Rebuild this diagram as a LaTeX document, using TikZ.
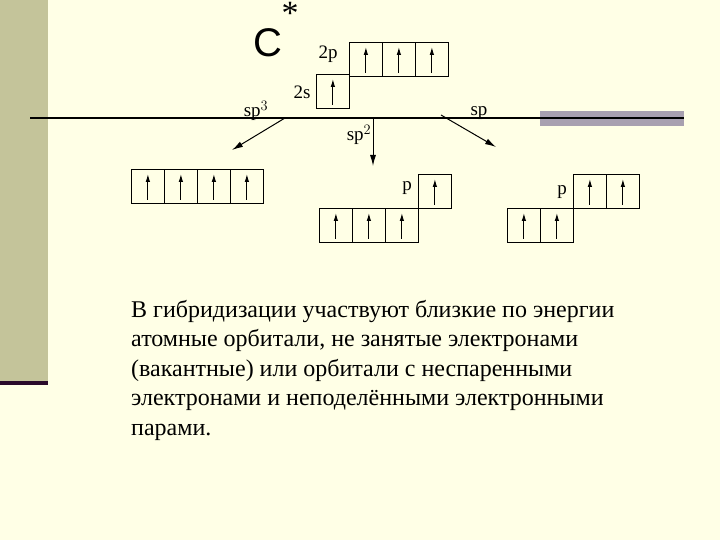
\documentclass[tikz,border=0pt]{standalone}
\usepackage{fontspec}
\setmainfont{Liberation Serif}
\newfontfamily\sansC{Liberation Sans}
\usetikzlibrary{arrows.meta}
\definecolor{bg}{HTML}{FFFFE6}
\definecolor{bar}{HTML}{C4C49A}
\definecolor{dark}{HTML}{2A0A2A}
\definecolor{greybar}{HTML}{A8A0B0}
\tikzset{
  cell/.style={draw, line width=0.8pt, minimum width=33pt, minimum height=34pt, inner sep=0pt, anchor=north west},
  spin/.style={-{Latex[length=8pt,width=4.5pt]}, line width=1pt},
  hyb/.style={-{Latex[length=11pt,width=6pt]}, line width=1pt},
  lbl/.style={font=\fontsize{19}{19}\selectfont, inner sep=0pt},
}
\newcommand{\cellup}[2]{\node[cell] (#1) at #2 {};
  \draw[spin] ([yshift=4pt]#1.south) -- ([yshift=-5pt]#1.north);}
\begin{document}
\begin{tikzpicture}[x=1pt,y=-1pt]
\path[fill=bg] (0,0) rectangle (720,540);
\useasboundingbox (0,0) rectangle (720,540);
\fill[bar] (0,0) rectangle (48,381);
\fill[dark] (0,381) rectangle (48,385);
\fill[greybar] (540,111) rectangle (684,126);
\coordinate (l0) at (30,118);
\coordinate (l1) at (684,118);
\draw[line width=1.3pt] (l0) -- (l1);
\node[font=\sansC\fontsize{40}{40}\selectfont, inner sep=0pt] (C) at (268,43) {C};
\node[font=\fontsize{34}{34}\selectfont, inner sep=0pt, anchor=north] (star) at (290,2) {*};
% 2p / 2s
\cellup{p1}{(349,42)}\cellup{p2}{(382,42)}\cellup{p3}{(415,42)}
\cellup{s1}{(316,74)}
\node[lbl] (l2p) at (328,54) {2p};
\node[lbl] (l2s) at (302,92) {2s};
% hybrid arrows
\coordinate (a3) at (285,118); \coordinate (b3) at (232,150);
\coordinate (a2) at (373,118); \coordinate (b2) at (373,166);
\coordinate (a1) at (441,115); \coordinate (b1) at (496,147);
\draw[hyb] (a3) -- (b3);
\draw[hyb] (a2) -- (b2);
\draw[hyb] (a1) -- (b1);
\node[lbl] (lsp3) at (256,111) {sp$^{3}$};
\node[lbl] (lsp2) at (359,135) {sp$^{2}$};
\node[lbl] (lsp) at (479,113) {sp};
% sp3
\cellup{q1}{(131,169)}\cellup{q2}{(164,169)}\cellup{q3}{(197,169)}\cellup{q4}{(230,169)}
% sp2
\cellup{r1}{(319,208)}\cellup{r2}{(352,208)}\cellup{r3}{(385,208)}\cellup{r4}{(418,174)}
\node[lbl] (lp2) at (407,188) {p};
% sp
\cellup{t1}{(507,208)}\cellup{t2}{(540,208)}\cellup{t3}{(573,174)}\cellup{t4}{(606,174)}
\node[lbl] (lp1) at (562,192) {p};
% text
\node[anchor=north west, align=left, inner sep=0pt, font=\fontsize{24}{29.5}\selectfont] (txt) at (131,300)
{В гибридизации участвуют близкие по энергии\\
атомные орбитали, не занятые электронами\\
(вакантные) или орбитали с неспаренными\\
электронами и неподелёнными электронными\\
парами.};
\end{tikzpicture}
\end{document}
